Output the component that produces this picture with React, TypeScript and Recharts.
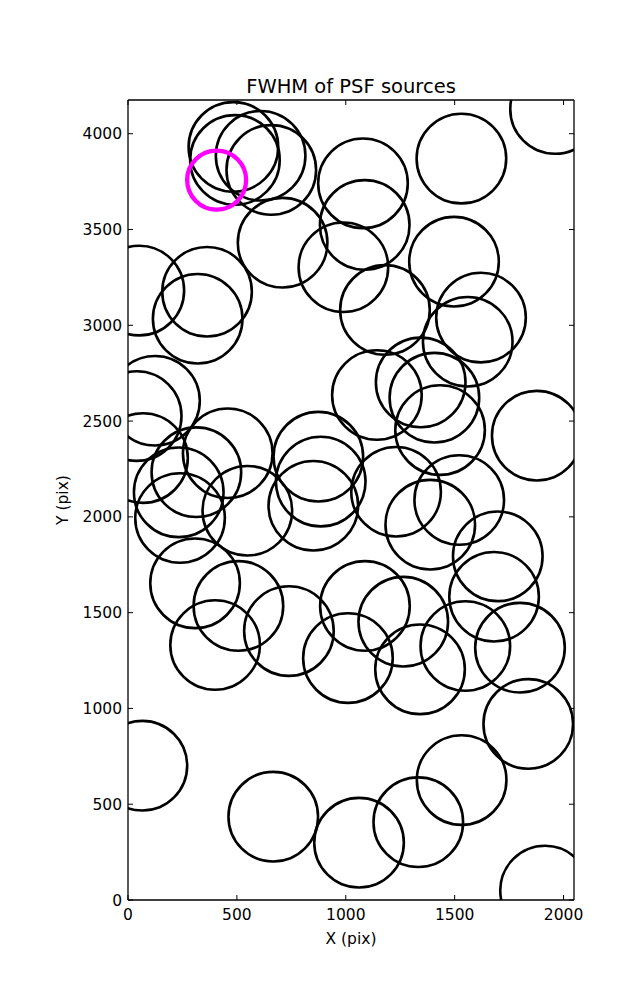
import { ScatterChart, Scatter, XAxis, YAxis, ReferenceLine } from 'recharts'

// detector is 2048 x 4176 pix
const xRange = [0, 2048]
const yRange = [0, 4176]
const xTicks = [0, 500, 1000, 1500, 2000]
const yTicks = [0, 500, 1000, 1500, 2000, 2500, 3000, 3500, 4000]

// centres of the PSF sources (pix)
const srcX = [
  1961, 1531, 484, 491, 609, 658, 710, 52, 363, 320,
  1079, 1087, 989, 1497, 1621, 1560, 1180, 1143, 1344, 1407,
  1433, 1877, 1231, 1521, 1388, 1698, 1681, 1088, 1264, 124,
  40, 69, 458, 314, 233, 239, 548, 874, 885, 851,
  308, 507, 739, 400, 1010, 1341, 1549, 1800, 66, 667,
  1061, 1333, 1532, 1838, 1915,
]
const srcY = [
  4129, 3870, 3931, 3863, 3885, 3811, 3431, 3181, 3175, 3034,
  3741, 3524, 3303, 3332, 3040, 2914, 3080, 2636, 2702, 2622,
  2453, 2424, 2131, 2088, 1959, 1794, 1583, 1535, 1453, 2606,
  2526, 2307, 2332, 2233, 2128, 1994, 2032, 2314, 2184, 2058,
  1653, 1535, 1404, 1331, 1263, 1204, 1326, 1317, 701, 435,
  299, 406, 626, 919, 49,
]

// highlighted source
const targetX = [407]
const targetY = [3758]

const sources = srcX.map((x, i) => ({ x, y: srcY[i] }))
const target = targetX.map((x, i) => ({ x, y: targetY[i] }))

const W = 637
const H = 1000
const LEFT = 128
const RIGHT = 574
const TOP = 100
const BOTTOM = 900
const FONT = '"DejaVu Sans", sans-serif'

const XTick = (props: any) => {
  const { x, payload } = props
  return (
    <g>
      <line x1={x} x2={x} y1={BOTTOM} y2={BOTTOM - 5} stroke="#000" strokeWidth={1} />
      <line x1={x} x2={x} y1={TOP} y2={TOP + 5} stroke="#000" strokeWidth={1} />
      <text x={x} y={BOTTOM + 20} textAnchor="middle" fontSize={15.5} fontFamily={FONT} fill="#000">
        {payload.value}
      </text>
    </g>
  )
}

const YTick = (props: any) => {
  const { y, payload } = props
  return (
    <g>
      <line x1={LEFT} x2={LEFT + 5} y1={y} y2={y} stroke="#000" strokeWidth={1} />
      <line x1={RIGHT} x2={RIGHT - 5} y1={y} y2={y} stroke="#000" strokeWidth={1} />
      <text x={LEFT - 6} y={y + 5.5} textAnchor="end" fontSize={15.5} fontFamily={FONT} fill="#000">
        {payload.value}
      </text>
    </g>
  )
}

const Ring = (props: any) => (
  <circle cx={props.cx} cy={props.cy} r={44.8} fill="none" stroke="#000" strokeWidth={2.6} />
)

const TargetRing = (props: any) => (
  <circle cx={props.cx} cy={props.cy} r={29.5} fill="none" stroke="#ff00ff" strokeWidth={4.3} />
)

export default function App() {
  return (
    <div style={{ position: 'absolute', left: 0, top: 0, width: W, height: H, background: '#fff' }}>
      <ScatterChart
        width={W}
        height={H}
        margin={{ top: TOP, right: W - RIGHT, bottom: H - BOTTOM - 40, left: LEFT - 60 }}
      >
        <XAxis
          type="number"
          dataKey="x"
          domain={xRange}
          ticks={xTicks}
          interval={0}
          allowDataOverflow
          height={40}
          tickLine={false}
          tick={<XTick />}
          axisLine={{ stroke: '#000', strokeWidth: 1.3 }}
        />
        <YAxis
          type="number"
          dataKey="y"
          domain={yRange}
          ticks={yTicks}
          interval={0}
          allowDataOverflow
          width={60}
          tickLine={false}
          tick={<YTick />}
          axisLine={{ stroke: '#000', strokeWidth: 1.3 }}
        />
        <Scatter data={sources} shape={<Ring />} isAnimationActive={false} />
        <Scatter data={target} shape={<TargetRing />} isAnimationActive={false} />
        <ReferenceLine y={yRange[1]} stroke="#000" strokeWidth={1.3} />
        <ReferenceLine x={xRange[1]} stroke="#000" strokeWidth={1.3} />
      </ScatterChart>
      <svg width={W} height={H} style={{ position: 'absolute', left: 0, top: 0, pointerEvents: 'none' }}>
        <text x={(LEFT + RIGHT) / 2} y={93} textAnchor="middle" fontSize={19.5} fontFamily={FONT} fill="#000">
          FWHM of PSF sources
        </text>
        <text x={(LEFT + RIGHT) / 2} y={944} textAnchor="middle" fontSize={15.5} fontFamily={FONT} fill="#000">
          X (pix)
        </text>
        <text
          x={68}
          y={(TOP + BOTTOM) / 2}
          textAnchor="middle"
          fontSize={15.5}
          fontFamily={FONT}
          fill="#000"
          transform={`rotate(-90 68 ${(TOP + BOTTOM) / 2})`}
        >
          Y (pix)
        </text>
      </svg>
    </div>
  )
}
